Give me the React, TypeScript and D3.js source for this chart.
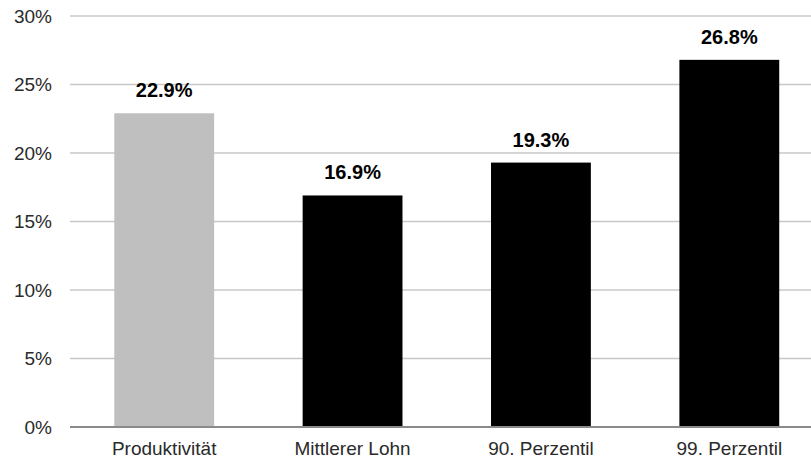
import React from "react";
import * as d3 from "d3";

const categories = ["Produktivität", "Mittlerer Lohn", "90. Perzentil", "99. Perzentil"];
const values = [22.9, 16.9, 19.3, 26.8];
const barColors = ["#bfbfbf", "#000000", "#000000", "#000000"];
const yTicks = [0, 5, 10, 15, 20, 25, 30];

const W = 811;
const H = 461;

export default function App() {
  const x = d3.scaleBand<string>().domain(categories).range([70, 823.5]).paddingInner(0.47).paddingOuter(0.235);
  const y = d3.scaleLinear().domain([0, 30]).range([427, 16]);
  const font = "'Liberation Sans', Arial, sans-serif";

  return (
    <svg width={W} height={H} style={{ position: "absolute", left: 0, top: 0 }} fontFamily={font}>
      {yTicks.map((t) => (
        <g key={t}>
          {t !== 0 && <line x1={70} x2={W} y1={y(t)} y2={y(t)} stroke="#c8c8c8" strokeWidth={1.5} />}
          <text x={52} y={y(t)} dy="0.35em" textAnchor="end" fontSize={19} fill="#2a2a2a">
            {t}%
          </text>
        </g>
      ))}
      {categories.map((c, i) => (
        <g key={c}>
          <rect x={x(c)} y={y(values[i])} width={x.bandwidth()} height={y(0) - y(values[i])} fill={barColors[i]} />
          <text
            x={(x(c) as number) + x.bandwidth() / 2}
            y={y(values[i]) - 16}
            textAnchor="middle"
            fontSize={20}
            fontWeight="bold"
            fill="#000"
          >
            {values[i].toFixed(1)}%
          </text>
          <text
            x={(x(c) as number) + x.bandwidth() / 2}
            y={455}
            textAnchor="middle"
            fontSize={19}
            fill="#2a2a2a"
          >
            {c}
          </text>
        </g>
      ))}
      <line x1={70} x2={W} y1={y(0)} y2={y(0)} stroke="#8a8a8a" strokeWidth={2} />
    </svg>
  );
}
